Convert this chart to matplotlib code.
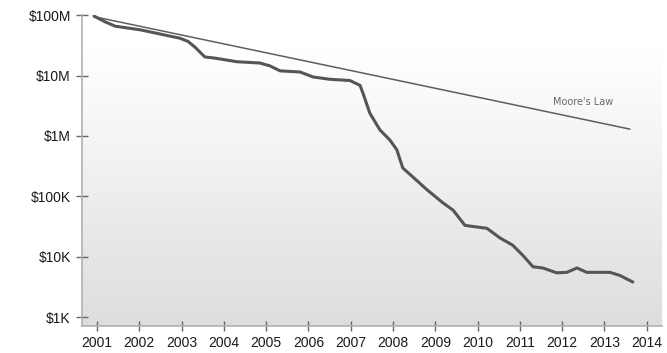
import numpy as np
import matplotlib
matplotlib.use("Agg")
import matplotlib.pyplot as plt
from matplotlib.ticker import FixedLocator, FixedFormatter

# cost per genome over time (dollars)
years = [2000.93, 2001.19, 2001.43, 2002.02, 2002.49, 2002.96, 2003.15, 2003.32,
         2003.55, 2003.79, 2004.31, 2004.85, 2005.09, 2005.33, 2005.80, 2006.11,
         2006.51, 2006.98, 2007.22, 2007.29, 2007.45, 2007.69, 2007.93, 2008.09,
         2008.23, 2008.47, 2008.80, 2009.18, 2009.42, 2009.70, 2010.22, 2010.53,
         2010.83, 2011.07, 2011.31, 2011.54, 2011.87, 2012.11, 2012.35, 2012.58,
         2013.13, 2013.36, 2013.67]
cost = [97e6, 78e6, 66e6, 57.5e6, 49e6, 41.7e6, 37e6, 29.5e6,
        20.4e6, 19.5e6, 17e6, 16.2e6, 14.5e6, 12e6, 11.5e6, 9.5e6,
        8.7e6, 8.3e6, 6.9e6, 5.1e6, 2.4e6, 1.26e6, 850e3, 590e3,
        295e3, 209e3, 129e3, 78e3, 59e3, 33e3, 29.5e3, 20.4e3,
        15.5e3, 10.5e3, 6.8e3, 6.5e3, 5.4e3, 5.5e3, 6.5e3, 5.5e3,
        5.5e3, 4.9e3, 3.8e3]

# Moore's law reference line
moore_years = [2000.93, 2013.6]
moore_cost = [95e6, 1.3e6]

ytick_vals = [1e3, 1e4, 1e5, 1e6, 1e7, 1e8]
ytick_labels = ["$1K", "$10K", "$100K", "$1M", "$10M", "$100M"]
xtick_vals = list(range(2001, 2015))

fig = plt.figure(figsize=(6.67, 3.53), dpi=100)
rect = [82 / 667, (353 - 325.7) / 353, 580 / 667, (325.7 - 15.3) / 353]

# grey gradient behind the plot, with a light halftone dot pattern
h, w = 310, 580
t = np.linspace(0, 1, h)[:, None]
shade = np.where(t < 0.08, 1.0, 1.0 - (t - 0.08) / 0.92 * 0.14) * np.ones((1, w))
yy, xx = np.mgrid[0:h, 0:w]
dots = ((yy % 4 == 0) & (xx % 4 == 0)) | ((yy % 4 == 2) & (xx % 4 == 2))
shade = np.where(dots & (t > 0.06), np.minimum(shade + 0.035, 1.0), shade)

bg = fig.add_axes(rect, zorder=0)
bg.imshow(shade, cmap="gray", vmin=0, vmax=1, aspect="auto",
          extent=[0, 1, 0, 1], interpolation="nearest")
bg.axis("off")

ax = fig.add_axes(rect, zorder=1)
ax.patch.set_alpha(0)
ax.set_yscale("log")
ax.plot(moore_years, moore_cost, color="#5e5e5e", lw=1.1, solid_capstyle="round")
ax.plot(years, cost, color="#555555", lw=2.2, solid_capstyle="round",
        solid_joinstyle="round")
ax.text(2011.78, 10 ** 6.56, "Moore's Law", fontsize=7, color="#6a6a6a",
        va="center", ha="left")

ax.set_xlim(2000.645, 2014.36)
ax.set_ylim(718, 1e8)
ax.yaxis.set_major_locator(FixedLocator(ytick_vals))
ax.yaxis.set_major_formatter(FixedFormatter(ytick_labels))
ax.yaxis.set_minor_locator(FixedLocator([]))
ax.set_xticks(xtick_vals)
ax.set_xticklabels([str(y) for y in xtick_vals])

for s in ["top", "right"]:
    ax.spines[s].set_visible(False)
for s in ["left", "bottom"]:
    ax.spines[s].set_color("#b0b0b0")
    ax.spines[s].set_linewidth(1.2)

ax.tick_params(axis="y", direction="inout", length=8, width=1, color="#666666",
               pad=4, labelsize=10, labelcolor="#1a1a1a")
ax.tick_params(axis="x", direction="inout", length=7, width=1, color="#666666",
               pad=4, labelsize=10, labelcolor="#1a1a1a")
for lab in ax.get_xticklabels() + ax.get_yticklabels():
    lab.set_family("Liberation Sans")

fig.savefig("out.png", dpi=100)
